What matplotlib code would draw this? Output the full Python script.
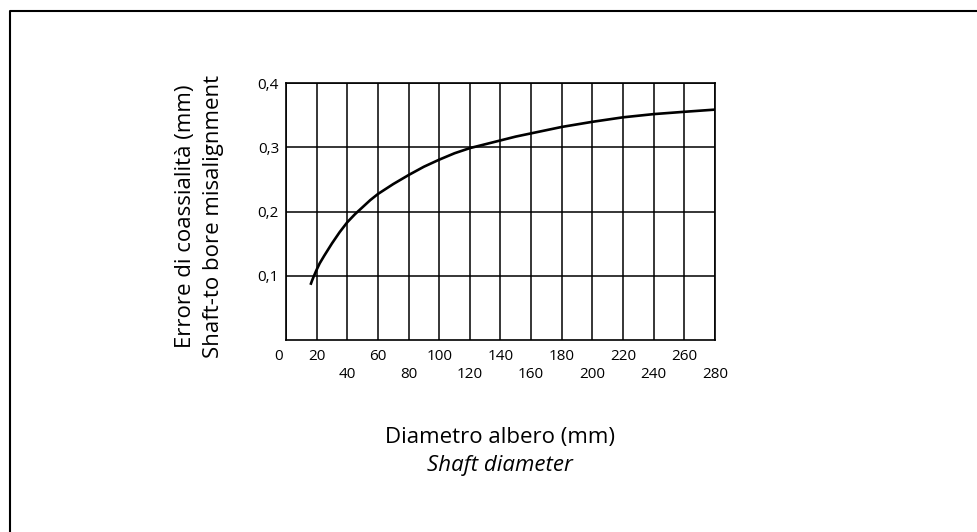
import matplotlib
matplotlib.use("Agg")
import matplotlib.pyplot as plt
from matplotlib.lines import Line2D

plt.rcParams['font.family'] = ['Open Sans', 'DejaVu Sans']

# Data
diameter = [16, 17, 18, 19, 20, 22, 25, 30, 35, 40, 45, 50, 55, 60, 70, 80, 90, 100, 110, 120,
            130, 140, 150, 160, 180, 200, 220, 240, 260, 280]
misalignment = [0.086, 0.0925, 0.0985, 0.104, 0.1095, 0.1195, 0.1315, 0.1505, 0.168, 0.1835,
                0.196, 0.207, 0.218, 0.2275, 0.243, 0.257, 0.270, 0.281, 0.291, 0.299,
                0.305, 0.311, 0.317, 0.322, 0.332, 0.340, 0.347, 0.352, 0.3556, 0.359]
x_ticks_top = [0, 20, 60, 100, 140, 180, 220, 260]
x_ticks_bottom = [40, 80, 120, 160, 200, 240, 280]
y_ticks = [0.1, 0.2, 0.3, 0.4]
y_tick_labels = ["0,1", "0,2", "0,3", "0,4"]

W, H = 977, 532
fig = plt.figure(figsize=(W / 100, H / 100), dpi=100)
fig.patch.set_facecolor("white")

# outer frame (left and top only)
fig.add_artist(Line2D([10 / W, 10 / W, 1.0], [0.0, 1 - 11 / H, 1 - 11 / H],
                      transform=fig.transFigure, color="black", lw=1.5))

ax = fig.add_axes([286 / W, 1 - 340 / H, (715 - 286) / W, (340 - 83.3) / H])
ax.set_xlim(0, 280)
ax.set_ylim(0, 0.4)
ax.set_xticks(range(0, 281, 20))
ax.set_yticks([0.1, 0.2, 0.3, 0.4])
ax.grid(True, color="black", lw=1.1)
ax.tick_params(length=0, labelbottom=False, labelleft=False)
for s in ax.spines.values():
    s.set_color("black")
    s.set_linewidth(1.2)

ax.plot(diameter, misalignment, color="black", lw=1.9, solid_capstyle="butt",
        solid_joinstyle="round")

fs = 11
for v in x_ticks_top:
    xx = v if v != 0 else -5
    ax.text(xx, -0.026, str(v), ha="center", va="center", fontsize=fs)
for v in x_ticks_bottom:
    ax.text(v, -0.0545, str(v), ha="center", va="center", fontsize=fs)
for v, lab in zip(y_ticks, y_tick_labels):
    ax.text(-4.5, v - 0.003, lab, ha="right", va="center", fontsize=fs)

lfs = 16
fig.text(185 / W, 1 - 216 / H, "Errore di coassialità (mm)", rotation=90,
         ha="center", va="center", fontsize=lfs)
fig.text(213 / W, 1 - 216 / H, "Shaft-to bore misalignment", rotation=90,
         ha="center", va="center", fontsize=lfs)
fig.text(500 / W, 1 - 437 / H, "Diametro albero (mm)", ha="center", va="center", fontsize=lfs)
fig.text(500 / W, 1 - 465 / H, "Shaft diameter", ha="center", va="center", fontsize=lfs,
         style="italic")

fig.savefig("out.png", dpi=100)
